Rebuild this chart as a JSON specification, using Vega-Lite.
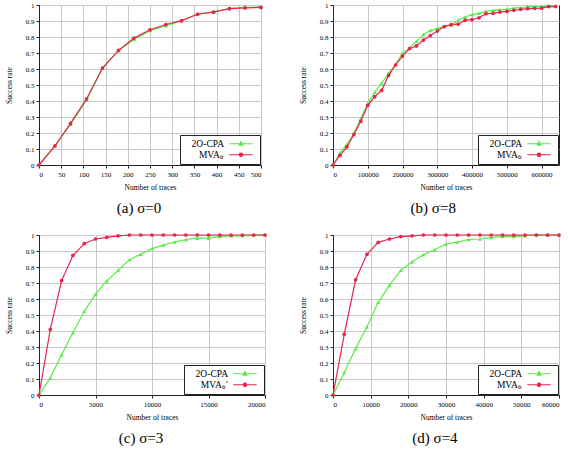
{
  "$schema": "https://vega.github.io/schema/vega-lite/v6.json",
  "padding": {"left": 4, "top": 0, "right": 2, "bottom": 2},
  "columns": 2,
  "spacing": {"row": 14, "column": 20},
  "resolve": {
    "scale": {"shape": "independent", "fill": "independent", "stroke": "independent"},
    "legend": {"shape": "independent", "fill": "independent", "stroke": "independent"}
  },
  "config": {
    "font": "Liberation Serif",
    "view": {"stroke": "#222", "strokeWidth": 1},
    "axis": {
      "labelFont": "Liberation Serif", "labelFontSize": 7, "labelColor": "#000", "labelPadding": 2,
      "titleFont": "Liberation Serif", "titleFontSize": 7.5, "titleFontWeight": "normal", "titleColor": "#000",
      "gridColor": "#c8c8c8", "gridWidth": 1, "gridOpacity": 1,
      "domainColor": "#222", "tickColor": "#222", "tickSize": 3
    },
    "axisY": {"titlePadding": 12},
    "axisX": {"titlePadding": 6},
    "title": {"font": "Liberation Serif", "fontSize": 15, "fontWeight": "normal", "orient": "bottom", "offset": 10, "color": "#000", "frame": "bounds"},
    "legend": {
      "orient": "bottom-right", "offset": 1,
      "labelFont": "Liberation Serif", "labelFontSize": 9.5, "labelColor": "#000",
      "symbolSize": 36, "symbolStrokeWidth": 1.2, "symbolOpacity": 1, "padding": 4, "rowPadding": 0,
      "strokeColor": "#222", "fillColor": "#fff", "labelLimit": 120
    }
  },
  "concat": [
    {
      "width": 222, "height": 160,
      "title": {"text": "(a) σ=0"},
      "data": {"values": [
        {"n": 0, "rate": 0, "method": "2O-CPA"},
        {"n": 36, "rate": 0.12, "method": "2O-CPA"},
        {"n": 71, "rate": 0.255, "method": "2O-CPA"},
        {"n": 107, "rate": 0.405, "method": "2O-CPA"},
        {"n": 143, "rate": 0.605, "method": "2O-CPA"},
        {"n": 179, "rate": 0.715, "method": "2O-CPA"},
        {"n": 214, "rate": 0.785, "method": "2O-CPA"},
        {"n": 250, "rate": 0.84, "method": "2O-CPA"},
        {"n": 286, "rate": 0.87, "method": "2O-CPA"},
        {"n": 321, "rate": 0.9, "method": "2O-CPA"},
        {"n": 357, "rate": 0.945, "method": "2O-CPA"},
        {"n": 393, "rate": 0.958, "method": "2O-CPA"},
        {"n": 429, "rate": 0.978, "method": "2O-CPA"},
        {"n": 464, "rate": 0.985, "method": "2O-CPA"},
        {"n": 500, "rate": 0.988, "method": "2O-CPA"},
        {"n": 0, "rate": 0, "method": "MVAₜᵣ"},
        {"n": 36, "rate": 0.12, "method": "MVAₜᵣ"},
        {"n": 71, "rate": 0.26, "method": "MVAₜᵣ"},
        {"n": 107, "rate": 0.413, "method": "MVAₜᵣ"},
        {"n": 143, "rate": 0.606, "method": "MVAₜᵣ"},
        {"n": 179, "rate": 0.716, "method": "MVAₜᵣ"},
        {"n": 214, "rate": 0.793, "method": "MVAₜᵣ"},
        {"n": 250, "rate": 0.845, "method": "MVAₜᵣ"},
        {"n": 286, "rate": 0.878, "method": "MVAₜᵣ"},
        {"n": 321, "rate": 0.902, "method": "MVAₜᵣ"},
        {"n": 357, "rate": 0.942, "method": "MVAₜᵣ"},
        {"n": 393, "rate": 0.955, "method": "MVAₜᵣ"},
        {"n": 429, "rate": 0.977, "method": "MVAₜᵣ"},
        {"n": 464, "rate": 0.982, "method": "MVAₜᵣ"},
        {"n": 500, "rate": 0.985, "method": "MVAₜᵣ"}
      ]},
      "encoding": {
        "x": {"field": "n", "type": "quantitative", "title": "Number of traces",
              "scale": {"domain": [0, 500], "nice": false},
              "axis": {"values": [0, 50, 100, 150, 200, 250, 300, 350, 400, 450, 500], "format": "d"}},
        "y": {"field": "rate", "type": "quantitative", "title": "Success rate",
              "scale": {"domain": [0, 1], "nice": false},
              "axis": {"values": [0, 0.1, 0.2, 0.3, 0.4, 0.5, 0.6, 0.7, 0.8, 0.9, 1], "format": "~g"}}
      },
      "layer": [
        {"transform": [{"filter": "datum.method == '2O-CPA'"}], "mark": {"type": "line", "color": "#55ee44", "strokeWidth": 1.2}, "encoding": {}},
        {"transform": [{"filter": "datum.method == '2O-CPA'"}], "mark": {"type": "point", "shape": "triangle-up", "filled": true, "color": "#55ee44", "size": 16, "opacity": 1}},
        {"transform": [{"filter": "datum.method != '2O-CPA'"}], "mark": {"type": "line", "color": "#e8254a", "strokeWidth": 1.2}, "encoding": {}},
        {"transform": [{"filter": "datum.method != '2O-CPA'"}], "mark": {"type": "point", "shape": "circle", "filled": true, "color": "#e8254a", "size": 14, "opacity": 1}},
        {"mark": {"type": "point", "opacity": 0, "size": 36},
         "encoding": {
           "shape": {"field": "method", "type": "nominal", "scale": {"domain": ["2O-CPA", "MVAₜᵣ"], "range": ["M-3.9,0H3.9M0,-0.7L0.6,0.45L-0.6,0.45Z", "M-3.9,0H3.9M0.55,0A0.55,0.55,0,1,1,-0.55,0A0.55,0.55,0,1,1,0.55,0Z"]},
                     "legend": {"title": null, "labelExpr": "'\u00a0\u00a0\u00a0\u00a0\u00a0' + datum.label", "encode": {"labels": {"update": {"x": {"value": 40}, "align": {"value": "right"}}}, "symbols": {"update": {"x": {"value": 57}, "opacity": {"value": 1}, "size": {"value": 36}, "strokeWidth": {"value": 1.2}}}}}},
           "fill": {"field": "method", "type": "nominal", "scale": {"domain": ["2O-CPA", "MVAₜᵣ"], "range": ["#55ee44", "#e8254a"]},
                    "legend": {"title": null, "labelExpr": "'\u00a0\u00a0\u00a0\u00a0\u00a0' + datum.label", "encode": {"labels": {"update": {"x": {"value": 40}, "align": {"value": "right"}}}, "symbols": {"update": {"x": {"value": 57}, "opacity": {"value": 1}, "size": {"value": 36}, "strokeWidth": {"value": 1.2}}}}}},
           "stroke": {"field": "method", "type": "nominal", "scale": {"domain": ["2O-CPA", "MVAₜᵣ"], "range": ["#55ee44", "#e8254a"]},
                      "legend": {"title": null, "labelExpr": "'\u00a0\u00a0\u00a0\u00a0\u00a0' + datum.label", "encode": {"labels": {"update": {"x": {"value": 40}, "align": {"value": "right"}}}, "symbols": {"update": {"x": {"value": 57}, "opacity": {"value": 1}, "size": {"value": 36}, "strokeWidth": {"value": 1.2}}}}}}
         }}
      ]
    },
    {
      "width": 226, "height": 160,
      "title": {"text": "(b) σ=8"},
      "data": {"values": [
        {"n": 0, "rate": 0, "method": "2O-CPA"},
        {"n": 20000, "rate": 0.075, "method": "2O-CPA"},
        {"n": 40000, "rate": 0.13, "method": "2O-CPA"},
        {"n": 60000, "rate": 0.198, "method": "2O-CPA"},
        {"n": 80000, "rate": 0.29, "method": "2O-CPA"},
        {"n": 100000, "rate": 0.385, "method": "2O-CPA"},
        {"n": 120000, "rate": 0.454, "method": "2O-CPA"},
        {"n": 140000, "rate": 0.512, "method": "2O-CPA"},
        {"n": 160000, "rate": 0.573, "method": "2O-CPA"},
        {"n": 180000, "rate": 0.629, "method": "2O-CPA"},
        {"n": 200000, "rate": 0.698, "method": "2O-CPA"},
        {"n": 220000, "rate": 0.73, "method": "2O-CPA"},
        {"n": 240000, "rate": 0.773, "method": "2O-CPA"},
        {"n": 260000, "rate": 0.815, "method": "2O-CPA"},
        {"n": 280000, "rate": 0.84, "method": "2O-CPA"},
        {"n": 300000, "rate": 0.854, "method": "2O-CPA"},
        {"n": 320000, "rate": 0.866, "method": "2O-CPA"},
        {"n": 340000, "rate": 0.873, "method": "2O-CPA"},
        {"n": 360000, "rate": 0.906, "method": "2O-CPA"},
        {"n": 380000, "rate": 0.925, "method": "2O-CPA"},
        {"n": 400000, "rate": 0.94, "method": "2O-CPA"},
        {"n": 420000, "rate": 0.948, "method": "2O-CPA"},
        {"n": 440000, "rate": 0.96, "method": "2O-CPA"},
        {"n": 460000, "rate": 0.967, "method": "2O-CPA"},
        {"n": 480000, "rate": 0.971, "method": "2O-CPA"},
        {"n": 500000, "rate": 0.973, "method": "2O-CPA"},
        {"n": 520000, "rate": 0.98, "method": "2O-CPA"},
        {"n": 540000, "rate": 0.983, "method": "2O-CPA"},
        {"n": 560000, "rate": 0.99, "method": "2O-CPA"},
        {"n": 580000, "rate": 0.99, "method": "2O-CPA"},
        {"n": 600000, "rate": 0.99, "method": "2O-CPA"},
        {"n": 620000, "rate": 0.995, "method": "2O-CPA"},
        {"n": 640000, "rate": 0.995, "method": "2O-CPA"},
        {"n": 0, "rate": 0, "method": "MVAₜᵣ"},
        {"n": 20000, "rate": 0.06, "method": "MVAₜᵣ"},
        {"n": 40000, "rate": 0.113, "method": "MVAₜᵣ"},
        {"n": 60000, "rate": 0.19, "method": "MVAₜᵣ"},
        {"n": 80000, "rate": 0.273, "method": "MVAₜᵣ"},
        {"n": 100000, "rate": 0.373, "method": "MVAₜᵣ"},
        {"n": 120000, "rate": 0.427, "method": "MVAₜᵣ"},
        {"n": 140000, "rate": 0.467, "method": "MVAₜᵣ"},
        {"n": 160000, "rate": 0.56, "method": "MVAₜᵣ"},
        {"n": 180000, "rate": 0.625, "method": "MVAₜᵣ"},
        {"n": 200000, "rate": 0.681, "method": "MVAₜᵣ"},
        {"n": 220000, "rate": 0.727, "method": "MVAₜᵣ"},
        {"n": 240000, "rate": 0.744, "method": "MVAₜᵣ"},
        {"n": 260000, "rate": 0.781, "method": "MVAₜᵣ"},
        {"n": 280000, "rate": 0.808, "method": "MVAₜᵣ"},
        {"n": 300000, "rate": 0.8375, "method": "MVAₜᵣ"},
        {"n": 320000, "rate": 0.865, "method": "MVAₜᵣ"},
        {"n": 340000, "rate": 0.878, "method": "MVAₜᵣ"},
        {"n": 360000, "rate": 0.88, "method": "MVAₜᵣ"},
        {"n": 380000, "rate": 0.905, "method": "MVAₜᵣ"},
        {"n": 400000, "rate": 0.908, "method": "MVAₜᵣ"},
        {"n": 420000, "rate": 0.92, "method": "MVAₜᵣ"},
        {"n": 440000, "rate": 0.946, "method": "MVAₜᵣ"},
        {"n": 460000, "rate": 0.948, "method": "MVAₜᵣ"},
        {"n": 480000, "rate": 0.956, "method": "MVAₜᵣ"},
        {"n": 500000, "rate": 0.96, "method": "MVAₜᵣ"},
        {"n": 520000, "rate": 0.967, "method": "MVAₜᵣ"},
        {"n": 540000, "rate": 0.973, "method": "MVAₜᵣ"},
        {"n": 560000, "rate": 0.977, "method": "MVAₜᵣ"},
        {"n": 580000, "rate": 0.979, "method": "MVAₜᵣ"},
        {"n": 600000, "rate": 0.98, "method": "MVAₜᵣ"},
        {"n": 620000, "rate": 0.99, "method": "MVAₜᵣ"},
        {"n": 640000, "rate": 0.99, "method": "MVAₜᵣ"}
      ]},
      "encoding": {
        "x": {"field": "n", "type": "quantitative", "title": "Number of traces",
              "scale": {"domain": [0, 650000], "nice": false},
              "axis": {"values": [0, 100000, 200000, 300000, 400000, 500000, 600000], "format": "d"}},
        "y": {"field": "rate", "type": "quantitative", "title": "Success rate",
              "scale": {"domain": [0, 1], "nice": false},
              "axis": {"values": [0, 0.1, 0.2, 0.3, 0.4, 0.5, 0.6, 0.7, 0.8, 0.9, 1], "format": "~g"}}
      },
      "layer": [
        {"transform": [{"filter": "datum.method == '2O-CPA'"}], "mark": {"type": "line", "color": "#55ee44", "strokeWidth": 1.2}, "encoding": {}},
        {"transform": [{"filter": "datum.method == '2O-CPA'"}], "mark": {"type": "point", "shape": "triangle-up", "filled": true, "color": "#55ee44", "size": 16, "opacity": 1}},
        {"transform": [{"filter": "datum.method != '2O-CPA'"}], "mark": {"type": "line", "color": "#e8254a", "strokeWidth": 1.2}, "encoding": {}},
        {"transform": [{"filter": "datum.method != '2O-CPA'"}], "mark": {"type": "point", "shape": "circle", "filled": true, "color": "#e8254a", "size": 14, "opacity": 1}},
        {"mark": {"type": "point", "opacity": 0, "size": 36},
         "encoding": {
           "shape": {"field": "method", "type": "nominal", "scale": {"domain": ["2O-CPA", "MVAₜᵣ"], "range": ["M-3.9,0H3.9M0,-0.7L0.6,0.45L-0.6,0.45Z", "M-3.9,0H3.9M0.55,0A0.55,0.55,0,1,1,-0.55,0A0.55,0.55,0,1,1,0.55,0Z"]},
                     "legend": {"title": null, "labelExpr": "'\u00a0\u00a0\u00a0\u00a0\u00a0' + datum.label", "encode": {"labels": {"update": {"x": {"value": 40}, "align": {"value": "right"}}}, "symbols": {"update": {"x": {"value": 57}, "opacity": {"value": 1}, "size": {"value": 36}, "strokeWidth": {"value": 1.2}}}}}},
           "fill": {"field": "method", "type": "nominal", "scale": {"domain": ["2O-CPA", "MVAₜᵣ"], "range": ["#55ee44", "#e8254a"]},
                    "legend": {"title": null, "labelExpr": "'\u00a0\u00a0\u00a0\u00a0\u00a0' + datum.label", "encode": {"labels": {"update": {"x": {"value": 40}, "align": {"value": "right"}}}, "symbols": {"update": {"x": {"value": 57}, "opacity": {"value": 1}, "size": {"value": 36}, "strokeWidth": {"value": 1.2}}}}}},
           "stroke": {"field": "method", "type": "nominal", "scale": {"domain": ["2O-CPA", "MVAₜᵣ"], "range": ["#55ee44", "#e8254a"]},
                      "legend": {"title": null, "labelExpr": "'\u00a0\u00a0\u00a0\u00a0\u00a0' + datum.label", "encode": {"labels": {"update": {"x": {"value": 40}, "align": {"value": "right"}}}, "symbols": {"update": {"x": {"value": 57}, "opacity": {"value": 1}, "size": {"value": 36}, "strokeWidth": {"value": 1.2}}}}}}
         }}
      ]
    },
    {
      "width": 226, "height": 160,
      "title": {"text": "(c) σ=3"},
      "data": {"values": [
        {"n": 0, "rate": 0, "method": "2O-CPA"},
        {"n": 1000, "rate": 0.107, "method": "2O-CPA"},
        {"n": 2000, "rate": 0.251, "method": "2O-CPA"},
        {"n": 3000, "rate": 0.389, "method": "2O-CPA"},
        {"n": 4000, "rate": 0.523, "method": "2O-CPA"},
        {"n": 5000, "rate": 0.63, "method": "2O-CPA"},
        {"n": 6000, "rate": 0.713, "method": "2O-CPA"},
        {"n": 7000, "rate": 0.778, "method": "2O-CPA"},
        {"n": 8000, "rate": 0.846, "method": "2O-CPA"},
        {"n": 9000, "rate": 0.88, "method": "2O-CPA"},
        {"n": 10000, "rate": 0.915, "method": "2O-CPA"},
        {"n": 11000, "rate": 0.937, "method": "2O-CPA"},
        {"n": 12000, "rate": 0.956, "method": "2O-CPA"},
        {"n": 13000, "rate": 0.972, "method": "2O-CPA"},
        {"n": 14000, "rate": 0.98, "method": "2O-CPA"},
        {"n": 15000, "rate": 0.98, "method": "2O-CPA"},
        {"n": 16000, "rate": 0.99, "method": "2O-CPA"},
        {"n": 17000, "rate": 0.995, "method": "2O-CPA"},
        {"n": 18000, "rate": 0.995, "method": "2O-CPA"},
        {"n": 19000, "rate": 1, "method": "2O-CPA"},
        {"n": 20000, "rate": 1, "method": "2O-CPA"},
        {"n": 0, "rate": 0, "method": "MVAₜᵣ′"},
        {"n": 1000, "rate": 0.41, "method": "MVAₜᵣ′"},
        {"n": 2000, "rate": 0.715, "method": "MVAₜᵣ′"},
        {"n": 3000, "rate": 0.872, "method": "MVAₜᵣ′"},
        {"n": 4000, "rate": 0.946, "method": "MVAₜᵣ′"},
        {"n": 5000, "rate": 0.975, "method": "MVAₜᵣ′"},
        {"n": 6000, "rate": 0.985, "method": "MVAₜᵣ′"},
        {"n": 7000, "rate": 0.995, "method": "MVAₜᵣ′"},
        {"n": 8000, "rate": 1, "method": "MVAₜᵣ′"},
        {"n": 9000, "rate": 1, "method": "MVAₜᵣ′"},
        {"n": 10000, "rate": 1, "method": "MVAₜᵣ′"},
        {"n": 11000, "rate": 1, "method": "MVAₜᵣ′"},
        {"n": 12000, "rate": 1, "method": "MVAₜᵣ′"},
        {"n": 13000, "rate": 1, "method": "MVAₜᵣ′"},
        {"n": 14000, "rate": 1, "method": "MVAₜᵣ′"},
        {"n": 15000, "rate": 1, "method": "MVAₜᵣ′"},
        {"n": 16000, "rate": 1, "method": "MVAₜᵣ′"},
        {"n": 17000, "rate": 1, "method": "MVAₜᵣ′"},
        {"n": 18000, "rate": 1, "method": "MVAₜᵣ′"},
        {"n": 19000, "rate": 1, "method": "MVAₜᵣ′"},
        {"n": 20000, "rate": 1, "method": "MVAₜᵣ′"}
      ]},
      "encoding": {
        "x": {"field": "n", "type": "quantitative", "title": "Number of traces",
              "scale": {"domain": [0, 20000], "nice": false},
              "axis": {"values": [0, 5000, 10000, 15000, 20000], "format": "d"}},
        "y": {"field": "rate", "type": "quantitative", "title": "Success rate",
              "scale": {"domain": [0, 1], "nice": false},
              "axis": {"values": [0, 0.1, 0.2, 0.3, 0.4, 0.5, 0.6, 0.7, 0.8, 0.9, 1], "format": "~g"}}
      },
      "layer": [
        {"transform": [{"filter": "datum.method == '2O-CPA'"}], "mark": {"type": "line", "color": "#55ee44", "strokeWidth": 1.2}, "encoding": {}},
        {"transform": [{"filter": "datum.method == '2O-CPA'"}], "mark": {"type": "point", "shape": "triangle-up", "filled": true, "color": "#55ee44", "size": 16, "opacity": 1}},
        {"transform": [{"filter": "datum.method != '2O-CPA'"}], "mark": {"type": "line", "color": "#e8254a", "strokeWidth": 1.2}, "encoding": {}},
        {"transform": [{"filter": "datum.method != '2O-CPA'"}], "mark": {"type": "point", "shape": "circle", "filled": true, "color": "#e8254a", "size": 14, "opacity": 1}},
        {"mark": {"type": "point", "opacity": 0, "size": 36},
         "encoding": {
           "shape": {"field": "method", "type": "nominal", "scale": {"domain": ["2O-CPA", "MVAₜᵣ′"], "range": ["M-3.9,0H3.9M0,-0.7L0.6,0.45L-0.6,0.45Z", "M-3.9,0H3.9M0.55,0A0.55,0.55,0,1,1,-0.55,0A0.55,0.55,0,1,1,0.55,0Z"]},
                     "legend": {"title": null, "labelExpr": "'\u00a0\u00a0\u00a0\u00a0\u00a0' + datum.label", "encode": {"labels": {"update": {"x": {"value": 40}, "align": {"value": "right"}}}, "symbols": {"update": {"x": {"value": 57}, "opacity": {"value": 1}, "size": {"value": 36}, "strokeWidth": {"value": 1.2}}}}}},
           "fill": {"field": "method", "type": "nominal", "scale": {"domain": ["2O-CPA", "MVAₜᵣ′"], "range": ["#55ee44", "#e8254a"]},
                    "legend": {"title": null, "labelExpr": "'\u00a0\u00a0\u00a0\u00a0\u00a0' + datum.label", "encode": {"labels": {"update": {"x": {"value": 40}, "align": {"value": "right"}}}, "symbols": {"update": {"x": {"value": 57}, "opacity": {"value": 1}, "size": {"value": 36}, "strokeWidth": {"value": 1.2}}}}}},
           "stroke": {"field": "method", "type": "nominal", "scale": {"domain": ["2O-CPA", "MVAₜᵣ′"], "range": ["#55ee44", "#e8254a"]},
                      "legend": {"title": null, "labelExpr": "'\u00a0\u00a0\u00a0\u00a0\u00a0' + datum.label", "encode": {"labels": {"update": {"x": {"value": 40}, "align": {"value": "right"}}}, "symbols": {"update": {"x": {"value": 57}, "opacity": {"value": 1}, "size": {"value": 36}, "strokeWidth": {"value": 1.2}}}}}}
         }}
      ]
    },
    {
      "width": 226, "height": 160,
      "title": {"text": "(d) σ=4"},
      "data": {"values": [
        {"n": 0, "rate": 0, "method": "2O-CPA"},
        {"n": 3000, "rate": 0.14, "method": "2O-CPA"},
        {"n": 6000, "rate": 0.29, "method": "2O-CPA"},
        {"n": 9000, "rate": 0.425, "method": "2O-CPA"},
        {"n": 12000, "rate": 0.579, "method": "2O-CPA"},
        {"n": 15000, "rate": 0.687, "method": "2O-CPA"},
        {"n": 18000, "rate": 0.78, "method": "2O-CPA"},
        {"n": 21000, "rate": 0.833, "method": "2O-CPA"},
        {"n": 24000, "rate": 0.877, "method": "2O-CPA"},
        {"n": 27000, "rate": 0.908, "method": "2O-CPA"},
        {"n": 30000, "rate": 0.944, "method": "2O-CPA"},
        {"n": 33000, "rate": 0.956, "method": "2O-CPA"},
        {"n": 36000, "rate": 0.972, "method": "2O-CPA"},
        {"n": 39000, "rate": 0.975, "method": "2O-CPA"},
        {"n": 42000, "rate": 0.985, "method": "2O-CPA"},
        {"n": 45000, "rate": 0.99, "method": "2O-CPA"},
        {"n": 48000, "rate": 0.99, "method": "2O-CPA"},
        {"n": 51000, "rate": 0.995, "method": "2O-CPA"},
        {"n": 54000, "rate": 1, "method": "2O-CPA"},
        {"n": 57000, "rate": 1, "method": "2O-CPA"},
        {"n": 60000, "rate": 1, "method": "2O-CPA"},
        {"n": 0, "rate": 0, "method": "MVAₜᵣ"},
        {"n": 3000, "rate": 0.38, "method": "MVAₜᵣ"},
        {"n": 6000, "rate": 0.72, "method": "MVAₜᵣ"},
        {"n": 9000, "rate": 0.879, "method": "MVAₜᵣ"},
        {"n": 12000, "rate": 0.954, "method": "MVAₜᵣ"},
        {"n": 15000, "rate": 0.975, "method": "MVAₜᵣ"},
        {"n": 18000, "rate": 0.99, "method": "MVAₜᵣ"},
        {"n": 21000, "rate": 0.995, "method": "MVAₜᵣ"},
        {"n": 24000, "rate": 1, "method": "MVAₜᵣ"},
        {"n": 27000, "rate": 1, "method": "MVAₜᵣ"},
        {"n": 30000, "rate": 1, "method": "MVAₜᵣ"},
        {"n": 33000, "rate": 1, "method": "MVAₜᵣ"},
        {"n": 36000, "rate": 1, "method": "MVAₜᵣ"},
        {"n": 39000, "rate": 1, "method": "MVAₜᵣ"},
        {"n": 42000, "rate": 1, "method": "MVAₜᵣ"},
        {"n": 45000, "rate": 1, "method": "MVAₜᵣ"},
        {"n": 48000, "rate": 1, "method": "MVAₜᵣ"},
        {"n": 51000, "rate": 1, "method": "MVAₜᵣ"},
        {"n": 54000, "rate": 1, "method": "MVAₜᵣ"},
        {"n": 57000, "rate": 1, "method": "MVAₜᵣ"},
        {"n": 60000, "rate": 1, "method": "MVAₜᵣ"}
      ]},
      "encoding": {
        "x": {"field": "n", "type": "quantitative", "title": "Number of traces",
              "scale": {"domain": [0, 60000], "nice": false},
              "axis": {"values": [0, 10000, 20000, 30000, 40000, 50000, 60000], "format": "d"}},
        "y": {"field": "rate", "type": "quantitative", "title": "Success rate",
              "scale": {"domain": [0, 1], "nice": false},
              "axis": {"values": [0, 0.1, 0.2, 0.3, 0.4, 0.5, 0.6, 0.7, 0.8, 0.9, 1], "format": "~g"}}
      },
      "layer": [
        {"transform": [{"filter": "datum.method == '2O-CPA'"}], "mark": {"type": "line", "color": "#55ee44", "strokeWidth": 1.2}, "encoding": {}},
        {"transform": [{"filter": "datum.method == '2O-CPA'"}], "mark": {"type": "point", "shape": "triangle-up", "filled": true, "color": "#55ee44", "size": 16, "opacity": 1}},
        {"transform": [{"filter": "datum.method != '2O-CPA'"}], "mark": {"type": "line", "color": "#e8254a", "strokeWidth": 1.2}, "encoding": {}},
        {"transform": [{"filter": "datum.method != '2O-CPA'"}], "mark": {"type": "point", "shape": "circle", "filled": true, "color": "#e8254a", "size": 14, "opacity": 1}},
        {"mark": {"type": "point", "opacity": 0, "size": 36},
         "encoding": {
           "shape": {"field": "method", "type": "nominal", "scale": {"domain": ["2O-CPA", "MVAₜᵣ"], "range": ["M-3.9,0H3.9M0,-0.7L0.6,0.45L-0.6,0.45Z", "M-3.9,0H3.9M0.55,0A0.55,0.55,0,1,1,-0.55,0A0.55,0.55,0,1,1,0.55,0Z"]},
                     "legend": {"title": null, "labelExpr": "'\u00a0\u00a0\u00a0\u00a0\u00a0' + datum.label", "encode": {"labels": {"update": {"x": {"value": 40}, "align": {"value": "right"}}}, "symbols": {"update": {"x": {"value": 57}, "opacity": {"value": 1}, "size": {"value": 36}, "strokeWidth": {"value": 1.2}}}}}},
           "fill": {"field": "method", "type": "nominal", "scale": {"domain": ["2O-CPA", "MVAₜᵣ"], "range": ["#55ee44", "#e8254a"]},
                    "legend": {"title": null, "labelExpr": "'\u00a0\u00a0\u00a0\u00a0\u00a0' + datum.label", "encode": {"labels": {"update": {"x": {"value": 40}, "align": {"value": "right"}}}, "symbols": {"update": {"x": {"value": 57}, "opacity": {"value": 1}, "size": {"value": 36}, "strokeWidth": {"value": 1.2}}}}}},
           "stroke": {"field": "method", "type": "nominal", "scale": {"domain": ["2O-CPA", "MVAₜᵣ"], "range": ["#55ee44", "#e8254a"]},
                      "legend": {"title": null, "labelExpr": "'\u00a0\u00a0\u00a0\u00a0\u00a0' + datum.label", "encode": {"labels": {"update": {"x": {"value": 40}, "align": {"value": "right"}}}, "symbols": {"update": {"x": {"value": 57}, "opacity": {"value": 1}, "size": {"value": 36}, "strokeWidth": {"value": 1.2}}}}}}
         }}
      ]
    }
  ]
}
